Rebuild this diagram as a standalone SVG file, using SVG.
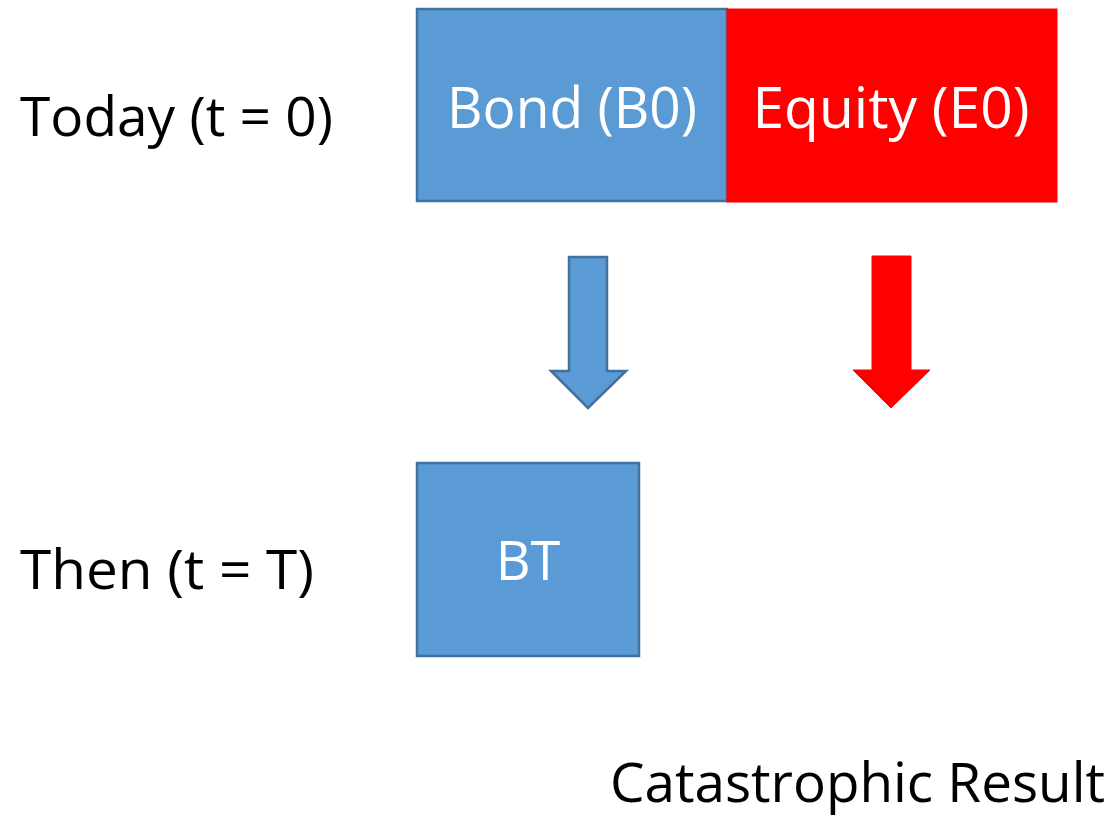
<svg xmlns="http://www.w3.org/2000/svg" width="1110" height="818" viewBox="0 0 1110 818">
<style>
.lbl{font-family:"Open Sans","Liberation Sans",sans-serif;font-size:54px;fill:#000}
.in{font-family:"Open Sans","Liberation Sans",sans-serif;font-size:56px;fill:#fff;text-anchor:middle}
.blue{fill:#5B9BD5;stroke:#41719C;stroke-width:2.5}
.red{fill:#FF0000;stroke:#FF0000;stroke-width:1}
</style>
<rect width="1110" height="818" fill="#fff"/>
<g id="label-today"><text class="lbl" x="20" y="136" textLength="313" lengthAdjust="spacingAndGlyphs">Today (t = 0)</text></g>
<g id="label-then"><text class="lbl" x="20" y="589" textLength="294" lengthAdjust="spacingAndGlyphs">Then (t = T)</text></g>
<g id="bond"><rect class="blue" x="417" y="9" width="310" height="192"/><text class="in" x="572" y="128" textLength="250" lengthAdjust="spacingAndGlyphs">Bond (B0)</text></g>
<g id="equity"><rect class="red" x="727" y="9" width="330" height="193"/><text class="in" x="891" y="128" textLength="277" lengthAdjust="spacingAndGlyphs">Equity (E0)</text></g>
<g id="bt"><rect class="blue" x="417" y="463" width="222" height="193"/><text class="in" x="528" y="580" style="font-size:54px">BT</text></g>
<g id="connectors">
<polygon class="blue" points="569,257 607,257 607,371 626,371 588,408 551,371 569,371"/>
<polygon class="red" points="872,256 911,256 911,370 930,370 891,408 853,370 872,370"/>
</g>
<g id="label-result"><text class="lbl" x="610" y="802" textLength="495" lengthAdjust="spacingAndGlyphs">Catastrophic Result</text></g>
</svg>
